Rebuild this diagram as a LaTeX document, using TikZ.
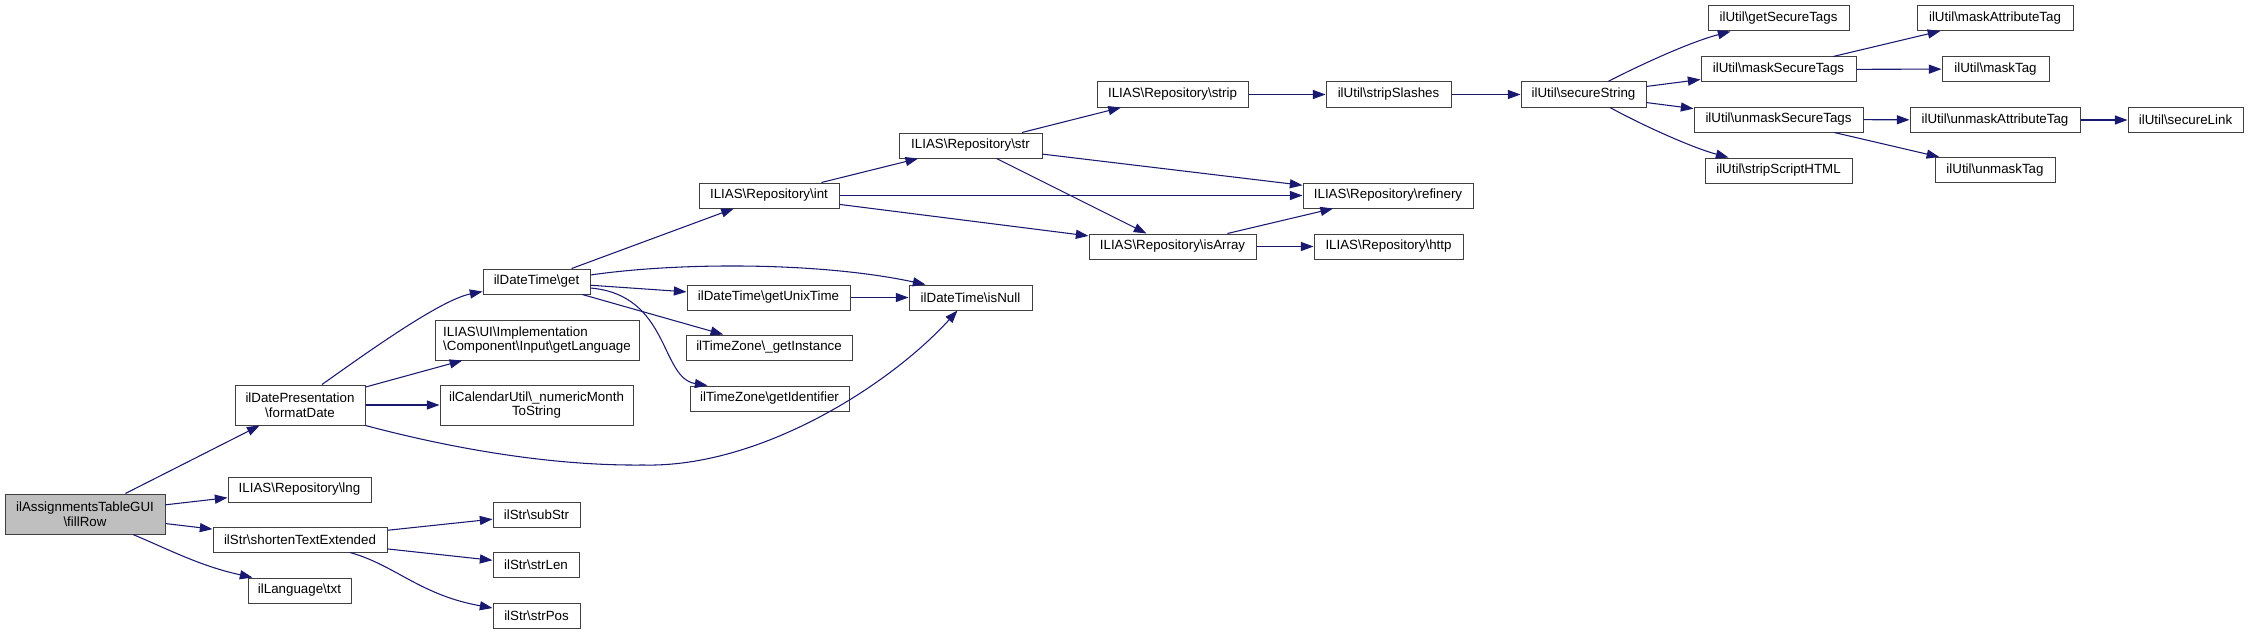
\documentclass[tikz,border=0pt]{standalone}
\usepackage{fontspec}
\setmainfont{Liberation Sans}
\usetikzlibrary{arrows.meta,calc}
\newcommand{\bsl}{\textbackslash}
\definecolor{edgeblue}{HTML}{191970}
\definecolor{boxgray}{HTML}{404040}
\definecolor{fillgray}{HTML}{BFBFBF}
\begin{document}
\begin{tikzpicture}[x=0.75pt,y=-0.75pt,
  fn/.style={draw=boxgray, line width=0.75pt, inner sep=0pt, minimum height=18.75pt,
    minimum width=#1*0.75pt, font=\fontsize{10}{11}\selectfont, fill=white},
  fntwo/.style={fn=#1, minimum height=30pt, align=center},
  arr/.style={draw=edgeblue, line width=0.8pt, -{Triangle[length=9.5pt,width=6.8pt]}}]
\useasboundingbox (0,0) rectangle (2248,635);
% column 1
\node[fntwo=160, fill=fillgray] (fillRow) at (85,514) {ilAssignmentsTableGUI\\\bsl fillRow};
% column 2
\node[fntwo=130] (formatDate) at (300,405) {ilDatePresentation\\\bsl formatDate};
\node[fn=143] (lng) at (299.5,489.5) {ILIAS\bsl Repository\bsl lng};
\node[fn=174] (shorten) at (300,539.5) {ilStr\bsl shortenTextExtended};
\node[fn=103] (txt) at (299.5,590.5) {ilLanguage\bsl txt};
% column 3
\node[fn=107] (get) at (536.5,281.5) {ilDateTime\bsl get};
\node[fn=204, minimum height=30pt, align=left] (getLanguage) at (537,340) {ILIAS\bsl UI\bsl Implementation\\\bsl Component\bsl Input\bsl getLanguage};
\node[fntwo=193] (numericMonth) at (536.5,405) {ilCalendarUtil\bsl\_numericMonth\\ToString};
\node[fn=87] (subStr) at (536.5,514.5) {ilStr\bsl subStr};
\node[fn=86] (strLen) at (536,565) {ilStr\bsl strLen};
\node[fn=87] (strPos) at (536.5,616) {ilStr\bsl strPos};
% column 4
\node[fn=140] (int) at (769,195.5) {ILIAS\bsl Repository\bsl int};
\node[fn=163] (getUnixTime) at (768.5,297.5) {ilDateTime\bsl getUnixTime};
\node[fn=166] (getInstance) at (769,347.5) {ilTimeZone\bsl\_getInstance};
\node[fn=159] (getIdentifier) at (769.5,398.5) {ilTimeZone\bsl getIdentifier};
% column 5
\node[fn=143] (str) at (970.5,145.5) {ILIAS\bsl Repository\bsl str};
\node[fn=123] (isNull) at (970.5,297.5) {ilDateTime\bsl isNull};
% column 6
\node[fn=151] (strip) at (1172.5,94.5) {ILIAS\bsl Repository\bsl strip};
\node[fn=167] (isArray) at (1172.5,246.5) {ILIAS\bsl Repository\bsl isArray};
% column 7
\node[fn=125] (stripSlashes) at (1388.5,94.5) {ilUtil\bsl stripSlashes};
\node[fn=170] (refinery) at (1388,195.5) {ILIAS\bsl Repository\bsl refinery};
\node[fn=149] (http) at (1388.5,246.5) {ILIAS\bsl Repository\bsl http};
% column 8
\node[fn=125] (secureString) at (1583.5,94.5) {ilUtil\bsl secureString};
% column 9
\node[fn=141] (getSecureTags) at (1778.5,18.5) {ilUtil\bsl getSecureTags};
\node[fn=155] (maskSecureTags) at (1778.5,69.5) {ilUtil\bsl maskSecureTags};
\node[fn=169] (unmaskSecureTags) at (1778.5,119.5) {ilUtil\bsl unmaskSecureTags};
\node[fn=147] (stripScriptHTML) at (1778.5,170.5) {ilUtil\bsl stripScriptHTML};
% column 10
\node[fn=156] (maskAttributeTag) at (1995,18) {ilUtil\bsl maskAttributeTag};
\node[fn=107] (maskTag) at (1995.5,69) {ilUtil\bsl maskTag};
\node[fn=170] (unmaskAttributeTag) at (1995,120) {ilUtil\bsl unmaskAttributeTag};
\node[fn=120] (unmaskTag) at (1995,170) {ilUtil\bsl unmaskTag};
% column 11
\node[fn=115] (secureLink) at (2185.5,120) {ilUtil\bsl secureLink};

\coordinate (fdLow) at (643,465);

% edges
\draw[arr] (fillRow) -- (formatDate);
\draw[arr] (fillRow) -- (lng);
\draw[arr] (fillRow) -- (shorten);
\draw[arr] ($(fillRow.south)+(48,0)$) .. controls (170,550) and (200,566) .. ($(txt.north west)+(5,0)$);

\draw[arr] ($(formatDate.north)+(22,0)$) .. controls (365,354) and (440,300) .. ($(get.west)+(0,10)$);
\draw[arr] (formatDate) -- (getLanguage);
\draw[arr] (formatDate) -- (numericMonth);
\draw[arr] (formatDate.south east) .. controls (450,448) and (550,466) .. (fdLow)
   .. controls (760,468) and (890,385) .. ($(isNull.south)+(-13,0)$);

\draw[arr] (shorten) -- (subStr);
\draw[arr] (shorten) -- (strLen);
\draw[arr] ($(shorten.south)+(50,0)$) .. controls (395,565) and (420,595) .. ($(strPos.west)+(0,-8)$);

\draw[arr] (get) -- (int);
\draw[arr] ($(get.east)+(0,-6.5)$) .. controls (680,262) and (820,262) .. ($(isNull.north)+(-45,0)$);
\draw[arr] (get) -- (getUnixTime);
\draw[arr] (get) -- (getInstance);
\draw[arr] ($(get.east)+(0,6.5)$) .. controls (670,295) and (660,378) .. ($(getIdentifier.north)+(-62,0)$);
\draw[arr] (getUnixTime) -- (isNull);

\draw[arr] (int) -- (str);
\draw[arr] (int) -- (refinery);
\draw[arr] (int) -- (isArray);
\draw[arr] (str) -- (strip);
\draw[arr] (str) -- (refinery);
\draw[arr] (str) -- (isArray);
\draw[arr] (isArray) -- (refinery);
\draw[arr] (isArray) -- (http);
\draw[arr] (strip) -- (stripSlashes);
\draw[arr] (stripSlashes) -- (secureString);

\draw[arr] ($(secureString.north)+(24.5,0)$) .. controls (1640,65) and (1690,42) .. ($(getSecureTags.south)+(-48,0)$);
\draw[arr] (secureString) -- (maskSecureTags);
\draw[arr] (secureString) -- (unmaskSecureTags);
\draw[arr] ($(secureString.south)+(26.5,0)$) .. controls (1640,124) and (1690,147) .. ($(stripScriptHTML.north)+(-50,0)$);

\draw[arr] (maskSecureTags) -- (maskAttributeTag);
\draw[arr] (maskSecureTags) -- (maskTag);
\draw[arr] (unmaskSecureTags) -- (unmaskAttributeTag);
\draw[arr] (unmaskSecureTags) -- (unmaskTag);
\draw[arr] (unmaskAttributeTag) -- (secureLink);
\end{tikzpicture}
\end{document}
